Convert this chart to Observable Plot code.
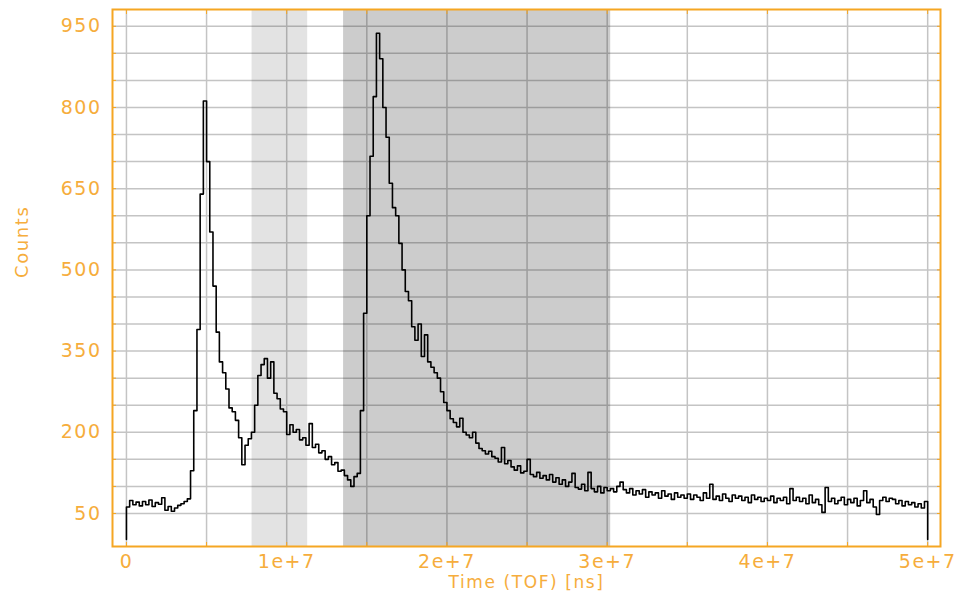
<!DOCTYPE html>
<html>
<head>
<meta charset="utf-8">
<script src="https://cdn.jsdelivr.net/npm/d3@7"></script>
<script src="https://cdn.jsdelivr.net/npm/@observablehq/plot@0.6"></script>
<style>
  body { margin: 0; background: #ffffff; }
  g[aria-label="y-axis tick label"] text,
  g[aria-label="x-axis tick label"] text { letter-spacing: 1.5px; }
  g[aria-label="text"] text { letter-spacing: 1.6px; }
</style>
</head>
<body>
<div id="chart"></div>
<script>
// ---- data ----
const binWidth = 2e5;            // ns per histogram bin
const counts = [
  // 0.0e6 .. 1.8e6
  62, 74, 66, 71, 64, 72, 66, 75, 63, 70,
  // 2.0e6 .. 3.8e6
  67, 79, 56, 63, 54, 60, 65, 68, 72, 77,
  // 4.0e6 .. 5.8e6
  129, 240, 390, 640, 812, 700, 570, 470, 385, 330,
  // 6.0e6 .. 7.8e6
  310, 280, 245, 238, 222, 190, 140, 176, 188, 200,
  // 8.0e6 .. 9.8e6
  250, 305, 325, 336, 300, 330, 272, 262, 243, 238,
  // 10.0e6 .. 11.8e6
  196, 214, 200, 205, 186, 190, 176, 216, 172, 178,
  // 12.0e6 .. 13.8e6
  162, 166, 150, 155, 140, 144, 128, 130, 120, 112,
  // 14.0e6 .. 15.8e6
  100, 118, 124, 240, 420, 600, 710, 820, 937, 890,
  // 16.0e6 .. 17.8e6
  800, 745, 660, 615, 600, 549, 500, 460, 443, 395,
  // 18.0e6 .. 19.8e6
  370, 400, 340, 380, 330, 320, 310, 300, 275, 255,
  // 20.0e6 .. 21.8e6
  240, 225, 218, 210, 226, 200, 195, 190, 200, 180,
  // 22.0e6 .. 23.8e6
  170, 166, 160, 165, 155, 152, 145, 172, 142, 148,
  // 24.0e6 .. 25.8e6
  136, 130, 138, 125, 128, 150, 122, 118, 126, 115,
  // 26.0e6 .. 27.8e6
  120, 112, 122, 108, 116, 104, 112, 100, 108, 124,
  // 28.0e6 .. 29.8e6
  98, 95, 104, 92, 126, 96, 90, 100, 88, 98,
  // 30.0e6 .. 31.8e6
  92, 96, 90, 100, 108, 94, 88, 96, 84, 92,
  // 32.0e6 .. 33.8e6
  86, 94, 80, 90, 84, 88, 78, 92, 82, 86,
  // 34.0e6 .. 35.8e6
  76, 88, 80, 84, 78, 86, 76, 84, 80, 74,
  // 36.0e6 .. 37.8e6
  88, 78, 104, 76, 82, 74, 86, 78, 72, 84,
  // 38.0e6 .. 39.8e6
  78, 82, 74, 80, 70, 84, 76, 80, 72, 78,
  // 40.0e6 .. 41.8e6
  74, 82, 70, 78, 74, 80, 68, 96, 74, 80,
  // 42.0e6 .. 43.8e6
  72, 78, 68, 84, 70, 76, 66, 52, 98, 72,
  // 44.0e6 .. 45.8e6
  78, 68, 74, 80, 66, 76, 70, 78, 64, 74,
  // 46.0e6 .. 47.8e6
  92, 70, 76, 62, 48, 74, 80, 72, 78, 76,
  // 48.0e6 .. 49.8e6
  68, 74, 64, 72, 66, 70, 62, 68, 60, 72
];
const edgeCount = 2;             // count at the histogram edges
const xStart = 0;
const xEnd = 5e7;

const xGrid = [0, 5e6, 1e7, 1.5e7, 2e7, 2.5e7, 3e7, 3.5e7, 4e7, 4.5e7, 5e7];
const xTicks = [0, 1e7, 2e7, 3e7, 4e7, 5e7];
const xTickLabels = ["0", "1e+7", "2e+7", "3e+7", "4e+7", "5e+7"];
const yGrid = [50, 100, 150, 200, 250, 300, 350, 400, 450, 500, 550, 600, 650, 700, 750, 800, 850, 900, 950];
const yTicks = [50, 200, 350, 500, 650, 800, 950];

const shadeLight = [7.84e6, 1.131e7];
const shadeDark = [1.355e7, 3.022e7];

const xLabel = "Time (TOF) [ns]";
const yLabel = "Counts";

// ---- table for the step line ----
const series = [{t: xStart, c: edgeCount}]
  .concat(counts.map((c, i) => ({t: xStart + i * binWidth, c})))
  .concat([{t: xEnd, c: edgeCount}]);

const orange = "#F5A623";
const textOrange = "#F6AD3C";

const chart = Plot.plot({
  width: 960,
  height: 597,
  marginLeft: 112,
  marginRight: 20,
  marginTop: 9,
  marginBottom: 51,
  x: {domain: [-8.7e5, 5.08e7], label: null},
  y: {domain: [-11, 981], label: null},
  style: {fontFamily: "DejaVu Sans", fontSize: "19px", background: "#ffffff", color: textOrange},
  marks: [
    Plot.gridX(xGrid, {stroke: "#c4c4c4", strokeOpacity: 1, strokeWidth: 1.5}),
    Plot.gridY(yGrid, {stroke: "#c4c4c4", strokeOpacity: 1, strokeWidth: 1.5}),
    Plot.rect([shadeLight], {x1: d => d[0], x2: d => d[1], fill: "black", fillOpacity: 0.11}),
    Plot.rect([shadeDark], {x1: d => d[0], x2: d => d[1], fill: "black", fillOpacity: 0.2}),
    Plot.line(series, {x: "t", y: "c", curve: "step-after", stroke: "black", strokeWidth: 1.6}),
    Plot.frame({stroke: orange, strokeWidth: 2}),
    // inner tick marks on all four sides
    Plot.axisY(yGrid, {anchor: "left", tickSize: 4, dx: 4, tickFormat: () => "", stroke: orange, label: null}),
    Plot.axisY(yGrid, {anchor: "right", tickSize: 4, dx: -4, tickFormat: () => "", stroke: orange, label: null}),
    Plot.axisX(xGrid, {anchor: "bottom", tickSize: 4, dy: -4, tickFormat: () => "", stroke: orange, label: null}),
    Plot.axisX(xGrid, {anchor: "top", tickSize: 4, dy: 4, tickFormat: () => "", stroke: orange, label: null}),
    // tick labels
    Plot.axisY(yTicks, {anchor: "left", tickSize: 0, tickPadding: 11, fill: textOrange, label: null}),
    Plot.axisX(xTicks, {anchor: "bottom", tickSize: 0, tickPadding: 8, fill: textOrange, label: null,
      tickFormat: d => xTickLabels[xTicks.indexOf(d)]}),
    // axis titles
    Plot.text([xLabel], {text: d => d, frameAnchor: "bottom", dy: 41, fill: textOrange, fontSize: 17}),
    Plot.text([yLabel], {text: d => d, frameAnchor: "left", dx: -90, rotate: -90, fill: textOrange, fontSize: 18})
  ]
});
document.getElementById("chart").appendChild(chart);
</script>
</body>
</html>
